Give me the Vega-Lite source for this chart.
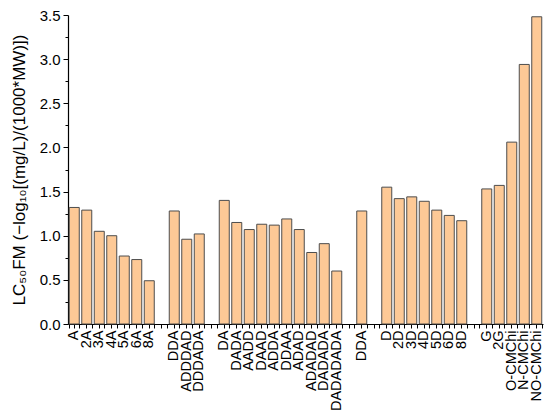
{
  "$schema": "https://vega.github.io/schema/vega-lite/v6.json",
  "autosize": {"type": "none"},
  "padding": {"left": 68, "top": 15, "right": 7, "bottom": 92},
  "width": 475,
  "height": 309,
  "background": "white",
  "config": {
    "font": "Liberation Sans",
    "view": {"stroke": null},
    "axis": {"grid": false, "domainColor": "#000000", "tickColor": "#000000", "labelColor": "#000000", "titleColor": "#000000", "labelFont": "Liberation Sans", "titleFont": "Liberation Sans"}
  },
  "data": {
    "values": [
      {"name": "A", "lc50": 1.32},
      {"name": "2A", "lc50": 1.29},
      {"name": "3A", "lc50": 1.05},
      {"name": "4A", "lc50": 1.00},
      {"name": "5A", "lc50": 0.77},
      {"name": "6A", "lc50": 0.73},
      {"name": "8A", "lc50": 0.49},
      {"name": "DDA", "lc50": 1.28},
      {"name": "ADDDAD", "lc50": 0.96},
      {"name": "DDDADA", "lc50": 1.02},
      {"name": "DA", "lc50": 1.40},
      {"name": "DADA", "lc50": 1.15},
      {"name": "AADD", "lc50": 1.07},
      {"name": "DAAD", "lc50": 1.13},
      {"name": "ADDA", "lc50": 1.12},
      {"name": "DDAA", "lc50": 1.19},
      {"name": "ADAD", "lc50": 1.07},
      {"name": "ADADAD", "lc50": 0.81},
      {"name": "DADADA", "lc50": 0.91},
      {"name": "DADADADA", "lc50": 0.60},
      {"name": "DDA ", "lc50": 1.28},
      {"name": "D", "lc50": 1.55},
      {"name": "2D", "lc50": 1.42},
      {"name": "3D", "lc50": 1.44},
      {"name": "4D", "lc50": 1.39},
      {"name": "5D", "lc50": 1.29},
      {"name": "6D", "lc50": 1.23},
      {"name": "8D", "lc50": 1.17},
      {"name": "G", "lc50": 1.53},
      {"name": "2G", "lc50": 1.57},
      {"name": "O-CMChi", "lc50": 2.06},
      {"name": "N-CMChi", "lc50": 2.94},
      {"name": "NO-CMChi", "lc50": 3.48}
    ]
  },
  "layer": [
    {
      "mark": {"type": "bar", "fill": "#FDC996", "stroke": "#4d4d4d", "strokeWidth": 1},
      "encoding": {
        "x": {
          "field": "name", "type": "nominal",
          "scale": {
            "domain": ["A","2A","3A","4A","5A","6A","8A","gap1","DDA","ADDDAD","DDDADA","gap2","DA","DADA","AADD","DAAD","ADDA","DDAA","ADAD","ADADAD","DADADA","DADADADA","gap3","DDA ","gap4","D","2D","3D","4D","5D","6D","8D","gap5","G","2G","O-CMChi","N-CMChi","NO-CMChi"],
            "paddingInner": 0.2, "paddingOuter": 0.1
          },
          "axis": {
            "title": null, "orient": "bottom",
            "labelAngle": -90, "labelFontSize": 14.5, "labelPadding": 2,
            "labelExpr": "indexof(datum.value, 'gap') === 0 ? '' : datum.value",
            "tickSize": 4, "domainWidth": 1.2, "labelOverlap": false
          }
        },
        "y": {
          "field": "lc50", "type": "quantitative",
          "scale": {"domain": [0, 3.5], "nice": false},
          "axis": {
            "title": "LC₅₀FM (−log₁₀[(mg/L)/(1000*MW)])",
            "titleFontSize": 17, "titleFontWeight": "normal", "titlePadding": 11,
            "values": [0, 0.5, 1, 1.5, 2, 2.5, 3, 3.5],
            "format": ".1f", "labelFontSize": 15, "tickSize": 5, "domainWidth": 1.2, "labelPadding": 3
          }
        }
      }
    },
    {
      "mark": {"type": "bar", "opacity": 0},
      "encoding": {
        "x": {
          "field": "name", "type": "nominal",
          "axis": {"title": null, "orient": "bottom", "labels": false, "domain": false, "tickBand": "extent", "tickSize": 4}
        },
        "y": {
          "field": "lc50", "type": "quantitative",
          "axis": {"title": null, "orient": "left", "labels": false, "domain": false, "values": [0.25, 0.75, 1.25, 1.75, 2.25, 2.75, 3.25], "tickSize": 3}
        }
      }
    }
  ],
  "resolve": {"axis": {"x": "independent", "y": "independent"}}
}
